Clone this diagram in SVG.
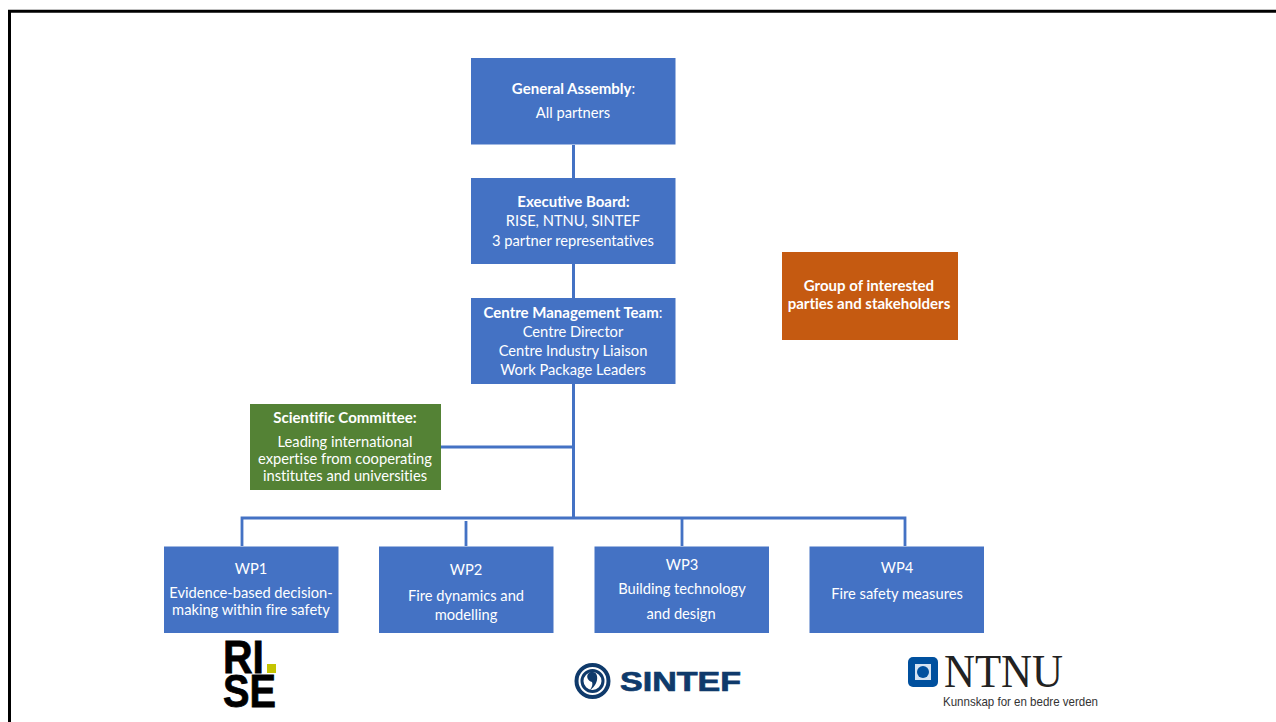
<svg xmlns="http://www.w3.org/2000/svg" width="1276" height="722" viewBox="0 0 1276 722">
<style>
.b{fill:#4472c4}
text{font-family:"Lato","Open Sans","Liberation Sans",sans-serif;font-size:14.700px;fill:#fff;text-anchor:middle;font-variant-ligatures:none}
.h{font-weight:700;font-size:15px}
.c{fill:none;stroke:#4472c4;stroke-width:3}
.c2{stroke-width:2.800}
.rise{font-family:"Liberation Sans",sans-serif;font-weight:700;font-size:46px;fill:#000;stroke:#000;stroke-width:.8;text-anchor:start}
</style>
<rect width="1276" height="722" fill="#fff"/>
<path d="M9.500 722V11.300H1276" fill="none" stroke="#000" stroke-width="3"/>
<g id="connectors">
<path class="c" d="M573.500 145V178M573.500 264V298M573.500 384V518M441 447H573.500"/>
<path class="c c2" d="M242 546V518H905V546M466 521V546M682 518V546"/>
</g>
<g id="general-assembly"><rect class="b" x="471" y="58" width="204.500" height="86.500"/><text x="573.500" y="94"><tspan class="h">General Assembly</tspan>:</text><text x="573" y="118">All partners</text></g>
<g id="executive-board"><rect class="b" x="471" y="178" width="204.500" height="86"/><text class="h" x="573.500" y="207">Executive Board:</text><text x="573" y="226">RISE, NTNU, SINTEF</text><text x="573" y="246">3 partner representatives</text></g>
<g id="management-team"><rect class="b" x="471" y="298" width="204.500" height="86"/><text x="573" y="318"><tspan class="h">Centre Management Team</tspan>:</text><text x="573" y="337">Centre Director</text><text x="573" y="356">Centre Industry Liaison</text><text x="573" y="375">Work Package Leaders</text></g>
<g id="stakeholders"><rect x="782" y="252" width="176" height="88" fill="#c55a11"/><text class="h" x="869" y="291">Group of interested</text><text class="h" x="869" y="309">parties and stakeholders</text></g>
<g id="scientific-committee"><rect x="250" y="404" width="191" height="86" fill="#548235"/><text class="h" x="345" y="423">Scientific Committee:</text><text x="345" y="447">Leading international</text><text x="345" y="464">expertise from cooperating</text><text x="345" y="481">institutes and universities</text></g>
<g id="wp1"><rect class="b" x="164" y="546.500" width="174.500" height="86.500"/><text x="251" y="574">WP1</text><text x="251" y="598">Evidence-based decision-</text><text x="251" y="615">making within fire safety</text></g>
<g id="wp2"><rect class="b" x="379" y="546.500" width="174.500" height="86.500"/><text x="466" y="575">WP2</text><text x="466" y="601">Fire dynamics and</text><text x="466" y="620">modelling</text></g>
<g id="wp3"><rect class="b" x="594.500" y="546.500" width="174.500" height="86.500"/><text x="682" y="570">WP3</text><text x="682" y="594">Building technology</text><text x="681" y="619">and design</text></g>
<g id="wp4"><rect class="b" x="809.500" y="546.500" width="174.500" height="86.500"/><text x="897" y="573">WP4</text><text x="897" y="599">Fire safety measures</text></g>
<g id="logo-rise">
<text class="rise" x="223" y="673" textLength="41" lengthAdjust="spacingAndGlyphs">RI</text>
<rect x="267" y="664" width="9" height="9" fill="#c4c400"/>
<text class="rise" x="223" y="707" textLength="53" lengthAdjust="spacingAndGlyphs">SE</text>
</g>
<g id="logo-sintef">
<circle cx="592.500" cy="681" r="16" fill="none" stroke="#0f3a6b" stroke-width="4"/>
<circle cx="592.500" cy="681" r="10.500" fill="none" stroke="#0f3a6b" stroke-width="3"/>
<path d="M588 674a5 5 0 0 1 9 2c1 5-2 11-7 14 2-3 3-6 2-8-4-1-6-5-4-8z" fill="#0f3a6b"/>
<text x="620" y="691" style="font-family:'Liberation Sans',sans-serif;font-weight:700;font-size:27px;fill:#0f3a6b;stroke:#0f3a6b;stroke-width:.7;text-anchor:start" textLength="121" lengthAdjust="spacingAndGlyphs">SINTEF</text>
</g>
<g id="logo-ntnu">
<rect x="908" y="657" width="30" height="30" rx="5" fill="#00509e"/>
<rect x="915" y="664" width="16" height="16" fill="#d5e3f2"/>
<circle cx="923" cy="672" r="6" fill="#00509e"/>
<text x="944" y="687" style="font-family:'Liberation Serif',serif;font-size:46px;fill:#222;text-anchor:start" textLength="119" lengthAdjust="spacingAndGlyphs">NTNU</text>
<text x="943" y="706" style="font-family:'Liberation Sans',sans-serif;font-size:13px;fill:#333;text-anchor:start" textLength="155" lengthAdjust="spacingAndGlyphs">Kunnskap for en bedre verden</text>
</g>
</svg>
